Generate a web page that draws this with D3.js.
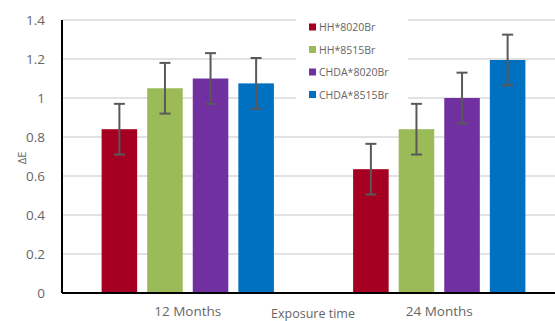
<!DOCTYPE html>
<html><head><meta charset="utf-8">
<script src="https://cdn.jsdelivr.net/npm/d3@7"></script>
<style>body{margin:0;background:#fff;overflow:hidden}svg{display:block}</style>
</head><body>
<svg id="c" width="555" height="321"></svg>
<script>
const categories = ["12 Months", "24 Months"];
const seriesNames = ["HH*8020Br", "HH*8515Br", "CHDA*8020Br", "CHDA*8515Br"];
const colors = ["#A50021", "#9BBB59", "#7030A0", "#0070C0"];
const hh8020 = [0.84, 0.635];
const hh8515 = [1.05, 0.84];
const chda8020 = [1.10, 1.00];
const chda8515 = [1.075, 1.195];
const errors = [0.13, 0.13];
const yTicks = [0, 0.2, 0.4, 0.6, 0.8, 1, 1.2, 1.4];
const seriesValues = [hh8020, hh8515, chda8020, chda8515];

const svg = d3.select("#c");
const m = {l: 62, r: -10, t: 20, b: 28};
const W = 555, H = 321;
const x0 = d3.scaleBand().domain(categories).range([m.l, W - m.r]).paddingInner(0.315).paddingOuter(0.1575);
const x1 = d3.scaleBand().domain(seriesNames).range([0, x0.bandwidth()]).paddingInner(0.22);
const y = d3.scaleLinear().domain([0, 1.4]).range([H - m.b, m.t]);

// gridlines
svg.append("g").selectAll("line").data(yTicks.filter(d => d > 0)).join("line")
  .attr("x1", m.l).attr("x2", W).attr("y1", d => y(d)).attr("y2", d => y(d))
  .attr("stroke", "#d9d9d9").attr("stroke-width", 1.5);

// y tick labels
const yAxis = d3.axisLeft(y).tickValues(yTicks).tickSize(0).tickPadding(17).tickFormat(d => d3.format("")(d));
const ya = svg.append("g").attr("transform", `translate(${m.l},0)`).call(yAxis);
ya.select(".domain").remove();
ya.selectAll("text").attr("font-family", "Open Sans, sans-serif").attr("font-size", 13.5).attr("fill", "#666");

// bars
const data = [];
categories.forEach((c, i) => seriesNames.forEach((s, j) => data.push({c, s, j, v: seriesValues[j][i], e: errors[i]})));
svg.append("g").selectAll("rect").data(data).join("rect")
  .attr("x", d => x0(d.c) + x1(d.s)).attr("width", x1.bandwidth())
  .attr("y", d => y(d.v)).attr("height", d => y(0) - y(d.v))
  .attr("fill", d => colors[d.j]);

// error bars
const eg = svg.append("g").attr("stroke", "#595959").attr("stroke-width", 2);
data.forEach(d => {
  const cx = x0(d.c) + x1(d.s) + x1.bandwidth() / 2;
  eg.append("line").attr("x1", cx).attr("x2", cx).attr("y1", y(d.v + d.e)).attr("y2", y(d.v - d.e));
  [d.v + d.e, d.v - d.e].forEach(v => eg.append("line").attr("x1", cx - 5.5).attr("x2", cx + 5.5).attr("y1", y(v)).attr("y2", y(v)));
});

// axes lines
svg.append("line").attr("x1", m.l).attr("x2", W).attr("y1", y(0)).attr("y2", y(0)).attr("stroke", "#000").attr("stroke-width", 2);
svg.append("line").attr("x1", m.l).attr("x2", m.l).attr("y1", y(1.4)).attr("y2", y(0)).attr("stroke", "#000").attr("stroke-width", 2);

// category labels
const xAxis = d3.axisBottom(x0).tickSize(0).tickPadding(13);
const xa = svg.append("g").attr("transform", `translate(0,${y(0)})`).call(xAxis);
xa.select(".domain").remove();
xa.selectAll("text").attr("font-family", "Open Sans, sans-serif").attr("font-size", 13.5).attr("fill", "#666");

// axis titles
svg.append("text").attr("x", 313).attr("y", 317.5).attr("text-anchor", "middle")
  .attr("font-family", "Open Sans, sans-serif").attr("font-size", 12.5).attr("fill", "#666").text("Exposure time");
svg.append("text").attr("transform", "translate(26,158) rotate(-90)").attr("text-anchor", "middle")
  .attr("font-family", "Open Sans, sans-serif").attr("font-size", 11).attr("fill", "#666").text("ΔE");

// legend
const lg = svg.append("g");
lg.append("rect").attr("x", 296).attr("y", 14).attr("width", 112).attr("height", 92).attr("fill", "#fff");
seriesNames.forEach((s, j) => {
  const yy = 27 + j * 22.5;
  lg.append("rect").attr("x", 309).attr("y", yy - 3.5).attr("width", 7).attr("height", 7).attr("fill", colors[j]);
  lg.append("text").attr("x", 319).attr("y", yy + 4).attr("font-family", "Open Sans, sans-serif")
    .attr("font-size", 10.5).attr("fill", "#666").text(s);
});
</script>
</body></html>
